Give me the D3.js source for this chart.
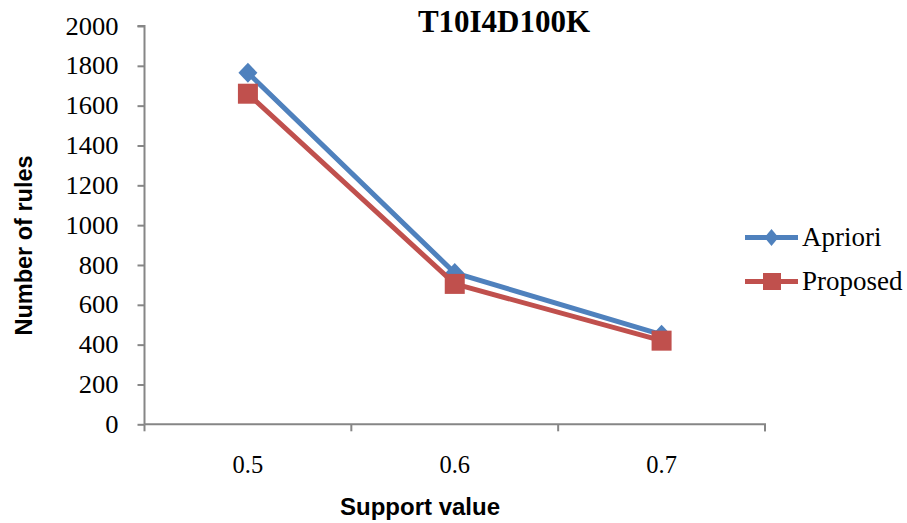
<!DOCTYPE html>
<html><head><meta charset="utf-8">
<script src="https://cdn.jsdelivr.net/npm/d3@7"></script>
<style>body{margin:0;background:#fff}</style>
</head><body>
<svg id="c" width="907" height="523"></svg>
<script>
const categories = ["0.5", "0.6", "0.7"];
const apriori = [1765, 760, 450];
const proposed = [1660, 705, 420];
const yTicks = [0,200,400,600,800,1000,1200,1400,1600,1800,2000];
const seriesNames = ["Apriori", "Proposed"];

const svg = d3.select("#c");
const L = 144.5, R = 765, T = 26, B = 424.3;
const x = d3.scaleBand().domain(categories).range([L, R]);
const y = d3.scaleLinear().domain([0, 2000]).range([B, T]);
const axisCol = "#868686";
const serif = "'Liberation Serif', 'Times New Roman', serif";
const sans = "'Liberation Sans', Arial, sans-serif";

// axes
const ya = svg.append("g").attr("transform", `translate(${L},0)`)
  .call(d3.axisLeft(y).tickValues(yTicks).tickSize(7).tickPadding(18).tickFormat(d3.format("d")));
const xa = svg.append("g").attr("transform", `translate(0,${B})`)
  .call(d3.axisBottom(x).tickSize(0).tickPadding(31));
[ya, xa].forEach(g => {
  g.select(".domain").attr("stroke", axisCol).attr("stroke-width", 2);
  g.selectAll(".tick line").attr("stroke", axisCol).attr("stroke-width", 2);
  g.selectAll("text").attr("fill", "#000").style("font-family", serif);
});
ya.selectAll("text").style("font-size", "25.5px").attr("transform", "scale(1.04,1)");
xa.selectAll("text").style("font-size", "24.5px");
ya.select(".domain").attr("d", `M-7,${T}H0V${B}`);
xa.select(".domain").attr("d", `M${L},0H${R}V7`);
xa.selectAll(".bt").data(categories.map(c => x(c)).concat([R])).enter().append("line")
  .attr("x1", d => d).attr("x2", d => d).attr("y1", 0).attr("y2", 7)
  .attr("stroke", axisCol).attr("stroke-width", 2);

const cx = c => x(c) + x.bandwidth() / 2;
const line = d3.line().x((d, i) => cx(categories[i])).y(d => y(d));
const colors = ["#4F81BD", "#C0504D"];
const diamondPath = (w, h) => `M0,${-h}L${w},0L0,${h}L${-w},0Z`;

svg.append("path").attr("d", line(apriori)).attr("fill", "none").attr("stroke", colors[0]).attr("stroke-width", 5).attr("stroke-linejoin", "round");
svg.selectAll(".dm").data(apriori).enter().append("path")
  .attr("d", diamondPath(9.5, 10))
  .attr("transform", (d, i) => `translate(${cx(categories[i])},${y(d)})`)
  .attr("fill", colors[0]);
svg.append("path").attr("d", line(proposed)).attr("fill", "none").attr("stroke", colors[1]).attr("stroke-width", 5).attr("stroke-linejoin", "round");
svg.selectAll(".sq").data(proposed).enter().append("rect")
  .attr("x", (d, i) => cx(categories[i]) - 10).attr("y", d => y(d) - 10)
  .attr("width", 20).attr("height", 20).attr("fill", colors[1]);

// title
svg.append("text").attr("x", 504).attr("y", 32).attr("text-anchor", "middle")
  .style("font-family", serif).style("font-weight", "bold").style("font-size", "31px")
  .text("T10I4D100K");
// axis titles
svg.append("text").attr("x", 420).attr("y", 515).attr("text-anchor", "middle")
  .style("font-family", sans).style("font-weight", "bold").style("font-size", "24px")
  .text("Support value");
svg.append("text").attr("transform", "translate(32,245.5) rotate(-90)").attr("text-anchor", "middle")
  .style("font-family", sans).style("font-weight", "bold").style("font-size", "23.5px")
  .text("Number of rules");

// legend
const lg = svg.append("g");
seriesNames.forEach((n, i) => {
  const ly = 237.5 + i * 44;
  lg.append("line").attr("x1", 745).attr("x2", 798).attr("y1", ly).attr("y2", ly).attr("stroke", colors[i]).attr("stroke-width", 5);
  if (i === 0) {
    lg.append("path").attr("d", diamondPath(7, 8.5)).attr("transform", `translate(771.5,${ly})`).attr("fill", colors[i]);
  } else {
    lg.append("rect").attr("x", 763).attr("y", ly - 8.5).attr("width", 18).attr("height", 17).attr("fill", colors[i]);
  }
  lg.append("text").attr("x", 802).attr("y", ly + 8)
    .style("font-family", serif).style("font-size", "27px").text(n);
});
</script>
</body></html>
